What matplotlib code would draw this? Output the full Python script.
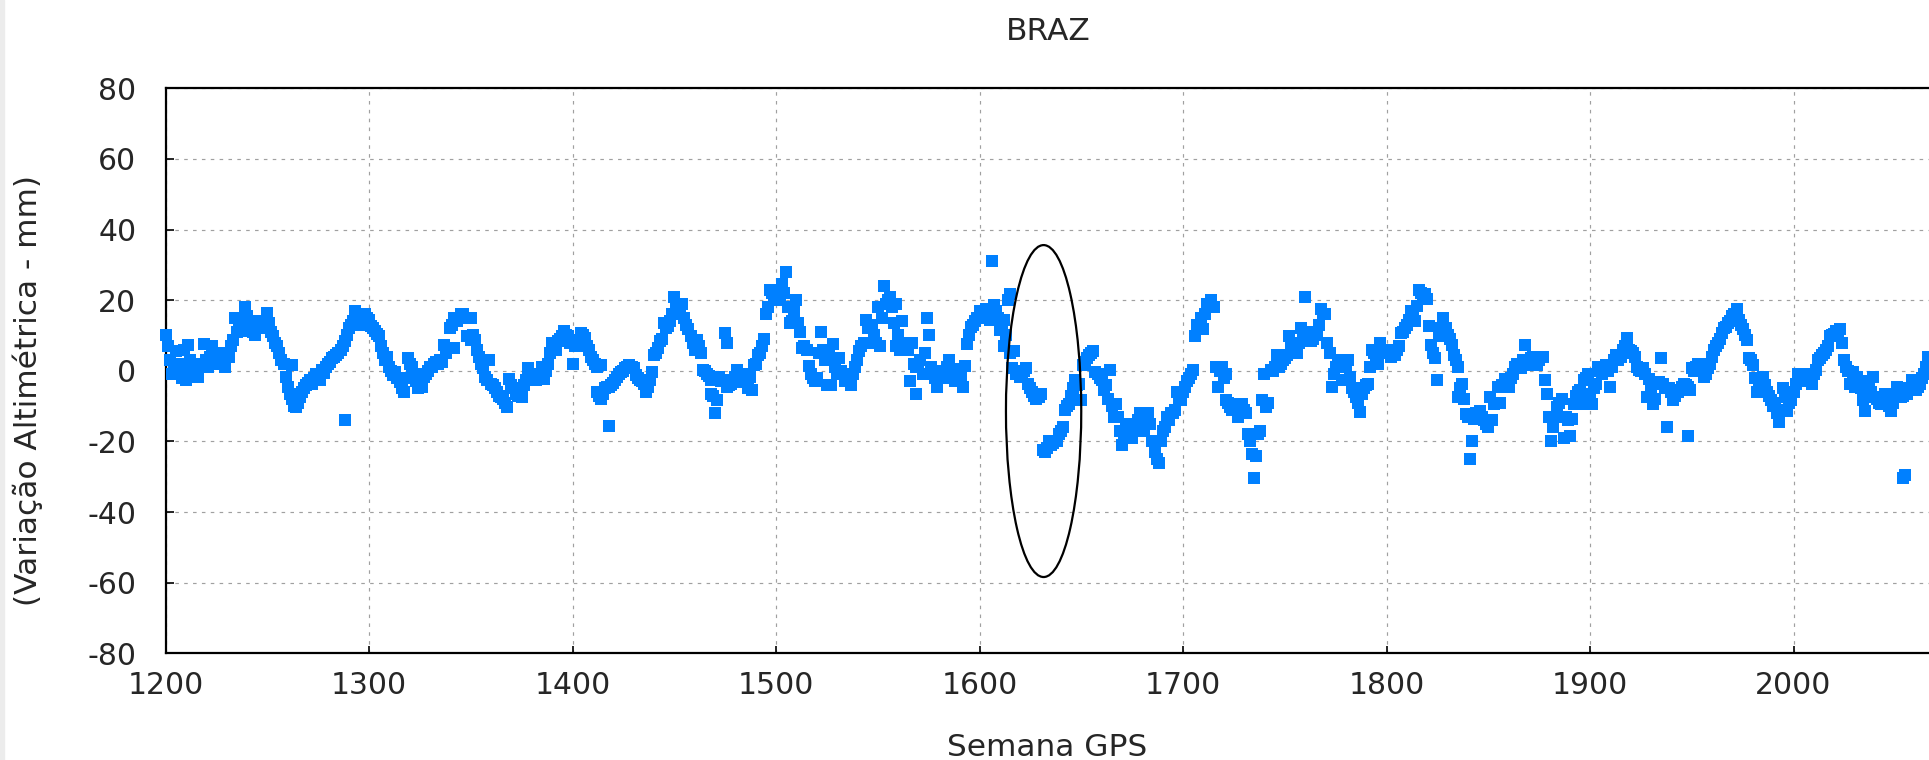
import numpy as np
import matplotlib
matplotlib.use("Agg")
import matplotlib.pyplot as plt
from matplotlib.patches import Ellipse, Rectangle

plt.rcParams['font.family'] = ['DejaVu Sans']
plt.rcParams['axes.unicode_minus'] = False

# ---------------- data (GPS week -> height variation, mm) ----------------
weeks_a = list(range(1200, 1400))
vals_a = [10, 7, 3, -1, 1, 5.5, 2, 0, -2, 6,
          -2.7, 7.4, 3, 1, -0.8, 1, -1.7, 2, 1, 7.7,
          3, 1, 4, 7, 2, 4.5, 2, 3, 5, 1,
          5, 4, 7, 8.8, 15, 11, 12, 13, 14, 18,
          15.5, 11.2, 12, 11, 10.2, 12, 14, 12, 13, 14,
          16.3, 13.6, 11, 9.8, 8, 7, 5, 3, 2, -1.7,
          -4.6, -6.5, -8, -9.9, -10.3, -9, -7.5, -6, -5, -4,
          -3.5, -2.7, -3.6, -2, -0.8, -1.5, -2.7, 0.2, -0.5, 1,
          2, 2.5, 3.5, 4, 4.5, 5, 6, 7, 8.5, 10.2,
          12, 13, 14, 17, 15, 16, 13, 14.5, 16, 15,
          14.5, 12.6, 12, 11.2, 10.5, 9.8, 7, 5, 3, 4,
          1.1, 0, -1.2, -0.3, -2, -3.2, -5, -6, -2, 3.5,
          2, 1.1, -0.8, -3, -5, -4, -4.6, -1.7, -1, 0,
          1.1, 1, 2, 2.5, 2, 3, 2.6, 7.4, 5, 6.4,
          12, 13, 15, 14, 15, 16, 16, 15, 9.8, 15,
          15, 10, 8.8, 6, 4, 2, 0.7, -1.7, -2.7, 3,
          -3.6, -4, -5, -6, -7, -7.5, -8, -9, -10.3, -2.2,
          -4, -5, -6.5, -7, -6, -7.5, -4, -2.7, 0.7, -1,
          -1.7, -2, -2.7, -1.5, -0.8, 1.1, -2.2, 0, 2, 5,
          7.8, 6, 6, 8.3, 9, 9.8, 11.2, 10, 9.8, 7.8]

weeks_b = list(range(1400, 1600))
vals_b = [2, 7, 8, 8.8, 10.7, 10, 9.3, 7, 6, 4,
          3, 2, 1.1, -7, 1.6, -6.5, -5, -4.5, -4.5, -4.1,
          -3.5, -2.7, -1.7, -1, -0.3, 0, 0.7, 1.2, 1.6, 1,
          0.7, -1.2, -2, -2.7, -3, -3.6, -6, -4.5, -2.7, -0.3,
          4.5, 5, 6.4, 8.3, 9, 13.6, 12, 12.6, 14, 16,
          21, 18, 17, 17.5, 18.9, 15, 13, 11.7, 9.8, 8,
          6, 8.8, 7, 5, 0.2, 0, -0.8, -1.5, -2.7, -7,
          -12, -8.4, -1.7, -3, -2.7, 10.7, 7.8, -4, -3.6, -2.5,
          -1.7, 0.2, -2, -3.2, -1.5, -0.8, -5, -1.7, -5.5, 1.6,
          2, 4.5, 5, 7, 9, 16, 18, 23, 22, 21,
          21, 20.5, 20, 24.5, 22, 28, 18, 13.5, 14, 17,
          20, 13.5, 11, 6.5, 7, 6, 1.5, -1, -2, -3,
          -2, 5, 11, 6, 3, -4, 4.5, -4, 7.5, 1,
          -1, 3.5, 0, -1, -3, -2, -1, -4, -1, 1,
          3, 5.5, 7, 8, 14.5, 12, 13, 13, 10, 8,
          18, 7, 15, 24, 19, 20, 21, 18, 13.5, 19,
          10, 6, 14, 7, 6, 6, -3, 8, 2, -6.5,
          2, 3, -1, 5, 15, 10, 1, 0, -2, -4.5,
          -1, -2, 0, -1, 1, 3, -1, -2, -3, 0.5,
          -1, -2, -4.5, 1.5, 7.5, 10, 12.5, 13, 14, 15]

weeks_c = list(range(1600, 1800))
vals_c = [17, 15, 15.5, 17.5, 16, 14.5, 16, 18.5, 17, 15,
          11.5, 13, 14.5, 10, 20, 21.7, 0.7, 5.5, -1, -0.5,
          -1.7, -1, 0, 0.7, -3.6, -5, -6, -7, -8, -7.5,
          -6.5, -22.3, -23, -22, -20, -21, -20.5, -20, -20, -18,
          -17, -16, -11, -10, -9.4, -7, -5, -2.7, -4, -3.6,
          -8.4, 1.6, 2.5, 3.5, 4.5, 5, 5.5, -0.3, -1, -2,
          -2.7, -5.5, -4, -8, 0.2, -10, -13, -9.4, -13, -17,
          -21, -18, -16, -15, -17, -19, -16, -15, -14, -12,
          -15, -17, -14, -12, -15, -20, -23, -25, -26, -20,
          -17, -16, -13, -14, -12, -12, -11, -6, -8, -8.4,
          -6, -4.6, -3, -2, -0.8, 0.2, 9.8, 13, 12, 15,
          11.7, 16, 19, 18, 20, 18, 1.1, -4.6, 0, 1.1,
          -2, -8.4, -9, -10.3, -11, -9.4, -11, -13, -12, -9.4,
          -11, -12, -18, -20, -23.7, -30.4, -24, -18, -17, -8.4,
          -0.8, -10.3, -9, 0.2, 0, 1, 4.5, 1.1, 2, 3,
          3.5, 4.5, 9.8, 8, 7, 6, 5, 8, 12, 11,
          20.8, 9.8, 10, 11, 9, 10, 10.7, 13, 17.4, 16,
          16, 8, 5, -4.6, -0.8, 1, 2, 3, -2.7, 2,
          1, 3, -1.7, -5, -6, -7.5, -9, -11.8, -6.5, -5,
          -4, -3.6, 1.1, 6, 5, 4, 2, 7.8, 6, 5]

weeks_d = list(range(1800, 2067))
vals_d = [6, 5, 4, 4.5, 4.5, 6, 7, 10.7, 11, 12,
          13, 14.5, 17, 15, 14, 18.4, 23, 22, 21, 21.7,
          20.3, 12.6, 7.4, 5, 3.5, -2.7, 9.8, 12, 15, 12,
          10, 9, 7.4, 4.5, 3, 1.1, -5, -3.6, -8, -12.2,
          -13, -25, -20, -13.7, -12, -12, -11.3, -13, -14, -15,
          -16, -7.5, -14, -9.4, -9, -4.6, -9, -4, -2.2, -3,
          -4.6, -2, -0.8, 1, 2, 1.5, 0.7, 3, 7.4, 1.6,
          3, 3.5, 4, 2.5, 1.6, 3, 4, 4, -2.7, -6.5,
          -13, -20, -16, -13.2, -10.3, -9, -8, -19, -13, -14,
          -18.5, -13.7, -9.4, -7, -6, -5.5, -9.4, -2.7, -2, -0.8,
          -6.5, -9.4, -5, -3.6, 1.1, 0, -0.8, 1, 1.6, 0,
          -4.6, 1.1, 3, 4.5, 3, 4, 6, 7, 9.3, 6,
          5.5, 5, 4, 1.1, 0.2, 0, 0.7, -1, -7.5, -2.2,
          -5, -9.4, -8, -3.5, -3.2, 3.5, -3.6, -5, -5, -5,
          -6, -8.4, -7, -6, -5.5, -4.5, -3.6, -4, -4.5, -5.5,
          0.7, 0, 1, 2, 1, 0, -1.7, -1, 0.7, 2,
          4, 6, 7, 7.8, 9, 10.7, 12, 12.5, 13.6, 14,
          15.5, 16, 17.4, 14.5, 13, 11.7, 10, 8.8, 3.5, 3,
          1.6, -2, -6, -4, -3, -1.7, -4, -6, -7, -8.4,
          -10, -9, -12, -14.6, -11, -5, -7.5, -11.3, -9, -8.4,
          -6, -3.6, -0.8, -2, -2.2, -1, -3, -1.2, -2, -3.6,
          -1, 0.2, 3, 3.5, 4.5, 5, 6, 7, 9.8, 10,
          10.5, 11.2, 11, 11.7, 8, 3, 1, 0, -3.6, -0.3,
          -4.6, -1.7, -3, -5, -8.4, -11.3, -4.6, -3, -6, -1.7,
          -7.5, -8, -9, -9.4, -8, -6.5, -9, -10, -11.3, -9,
          -7, -4.6, -6, -7.5, -7, -6, -6.5, -5, -2.7, -4,
          -5.5, -4.5, -3.6, -2, -0.8, 1, 4]

# secondary solutions / outliers sharing a week with the main series
extra_weeks = [1262, 1288, 1342, 1350, 1412, 1414, 1418, 1468, 1475, 1476,
               1559, 1562, 1569, 1579, 1606, 1612, 1615, 1721, 1763, 1835,
               1938, 1948, 2054, 2055]
extra_vals = [1.6, -13.9, 6.4, 8.8, -6, -8, -15.6, -6.5, -3, -4.6,
              7, 8, 1, 0, 31, 7, 5, -0.8, 8.3, -7.5,
              -16, -18.5, -30.4, -29.5]

x_ticks = [1200, 1300, 1400, 1500, 1600, 1700, 1800, 1900, 2000]
y_ticks = [-80, -60, -40, -20, 0, 20, 40, 60, 80]

# highlighted region (ellipse)
ell_center = (1631.5, -11.4)
ell_width = 37
ell_height = 94

title = "BRAZ"
xlabel = "Semana GPS"
ylabel = "(Variação Altimétrica - mm)"

# ---------------- figure ----------------
W, H = 1929, 760
fig = plt.figure(figsize=(W / 100, H / 100), dpi=100)
fig.patch.set_facecolor('white')
fig.patches.append(Rectangle((0, 0), 4 / W, 1, transform=fig.transFigure,
                             color='#ececec', zorder=0))

left_px, top_px, bottom_px = 165.5, 88.3, 653.3
ax = fig.add_axes([left_px / W, (H - bottom_px) / H,
                   1 - left_px / W, (bottom_px - top_px) / H])

pt_color = '#0080ff'
for wk, vv in [(weeks_a, vals_a), (weeks_b, vals_b), (weeks_c, vals_c),
               (weeks_d, vals_d), (extra_weeks, extra_vals)]:
    ax.plot(wk, vv, linestyle='none', marker='s', markersize=8.2,
            color=pt_color, markeredgewidth=0, clip_on=False, zorder=3)

ax.add_patch(Ellipse(ell_center, ell_width, ell_height, fill=False,
                     edgecolor='black', linewidth=1.6, zorder=4))

ax.set_xlim(1200, 1200 + (W - left_px) / 2.035)
ax.set_ylim(-80, 80)
ax.set_xticks(x_ticks)
ax.set_yticks(y_ticks)

ax.set_axisbelow(True)
ax.grid(True, color='#a0a0a0', linestyle=(0, (3, 4.5)), linewidth=0.85)

for s in ['left', 'bottom', 'top']:
    ax.spines[s].set_linewidth(1.6)
    ax.spines[s].set_color('black')
ax.spines['right'].set_visible(False)

txt_color = '#262626'
ax.tick_params(axis='x', direction='in', length=5, width=1.2, labelsize=21.5,
               pad=13, labelcolor=txt_color, top=False)
ax.tick_params(axis='y', direction='in', length=6, width=1.2, labelsize=21.5,
               pad=21, labelcolor=txt_color, right=False)

fig.text(1048 / W, (H - 40) / H, title, ha='center', va='baseline',
         fontsize=22.5, color=txt_color)
fig.text(1047 / W, 4 / H, xlabel, ha='center', va='baseline',
         fontsize=22.5, color=txt_color)
fig.text(28 / W, 370 / H, ylabel, ha='center', va='center', rotation=90,
         fontsize=22.5, color=txt_color)

fig.savefig('out.png', dpi=100)
